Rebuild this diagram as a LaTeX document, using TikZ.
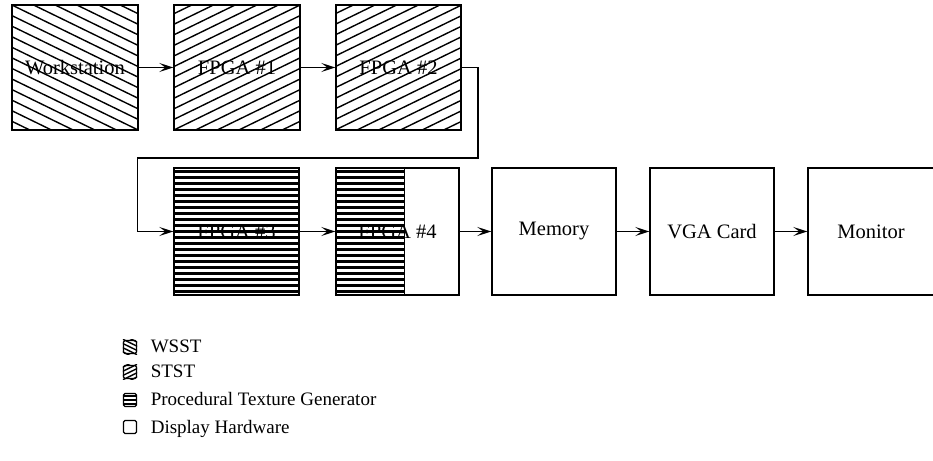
\documentclass[tikz,border=0pt]{standalone}
\usepackage{fontspec}
\setmainfont{Liberation Serif}
\usetikzlibrary{arrows.meta}

\begin{document}
\begin{tikzpicture}[x=1pt, y=1pt,
  blk/.style={draw, line width=1.4pt, minimum width=125pt, minimum height=125pt,
    inner sep=0pt, font=\fontsize{20.5}{24}\selectfont},
  hatchln/.style={line width=1.4pt},
  barln/.style={line width=2.2pt},
  key/.style={draw, line width=1.2pt, rounded corners=1.5pt, minimum size=13pt, inner sep=0pt},
  keytext/.style={inner sep=0pt, anchor=base west, font=\fontsize{19}{22}\selectfont},
  link/.style={-{Stealth[length=14pt,width=9pt,inset=6pt]}, line width=1.3pt}]

\useasboundingbox (0,0) rectangle (933,460);

% first row
\node[blk, minimum width=126pt] (ws) at (75,392.5) {Workstation};
\node[blk, minimum width=126pt] (f1) at (237,392.5) {FPGA \#1};
\node[blk] (f2) at (398.5,392.5) {FPGA \#2};

% second row
\node[blk, minimum height=127pt] (f3) at (236.5,228.5) {FPGA \#3};
\node[blk, minimum width=123pt, minimum height=127pt] (f4) at (397.5,228.5) {FPGA \#4};
\node[blk, minimum width=124pt, minimum height=127pt] (mem) at (554,228.5) {Memory};
\node[blk, minimum width=124pt, minimum height=127pt] (vga) at (712,228.5) {VGA Card};
\node[blk, minimum width=126pt, minimum height=127pt] (mon) at (871,228.5) {Monitor};

% legend
\node[key] (kws) at (130,113) {};
\node[key] (kst) at (130,88) {};
\node[key] (kpt) at (130,60) {};
\node[key] (kdh) at (130,33) {};
\node[keytext] (tws) at ([xshift=13.5pt, yshift=-6pt]kws.east) {WSST};
\node[keytext] (tst) at ([xshift=13.5pt, yshift=-6pt]kst.east) {STST};
\node[keytext] (tpt) at ([xshift=13.5pt, yshift=-6pt]kpt.east) {Procedural Texture Generator};
\node[keytext] (tdh) at ([xshift=13.5pt, yshift=-6pt]kdh.east) {Display Hardware};

% slanted hatching
\foreach \n/\a/\d in {ws/-26/9.5, f1/26/9.5, f2/26/9.5, kws/-26/3.8, kst/26/3.8} {
  \begin{scope}
    \clip (\n.south west) rectangle (\n.north east);
    \begin{scope}[shift={(\n.center)}, rotate=\a]
      \foreach \k in {-20,...,20} \draw[hatchln] (-120,\k*\d) -- (120,\k*\d);
    \end{scope}
  \end{scope}
}

% bar hatching
\begin{scope}
  \clip (f3.south west) rectangle (f3.north east);
  \foreach \k in {-11,...,11} \draw[barln] ([yshift=\k*6pt]f3.west) -- ([yshift=\k*6pt]f3.east);
\end{scope}
\begin{scope}
  \clip (f4.south west) rectangle ([xshift=69pt]f4.north west);
  \foreach \k in {-11,...,11} \draw[barln] ([yshift=\k*6pt]f4.west) -- ([yshift=\k*6pt,xshift=69pt]f4.west);
\end{scope}
\draw[hatchln] ([xshift=69pt]f4.south west) -- ([xshift=69pt]f4.north west);
\foreach \k in {-1,0,1} \draw[line width=1.6pt] ([yshift=\k*4pt]kpt.west) -- ([yshift=\k*4pt]kpt.east);

% connectors
\draw[link] (ws) -- (f1);
\draw[link] (f1) -- (f2);
\coordinate (bend) at (478,302);
\draw[link] (f2.east) -| (bend) -| ([xshift=-36pt]f3.west) -- (f3.west);
\draw[link] (f3) -- (f4);
\draw[link] (f4) -- (mem);
\draw[link] (mem) -- (vga);
\draw[link] (vga) -- (mon);
\end{tikzpicture}
\end{document}
